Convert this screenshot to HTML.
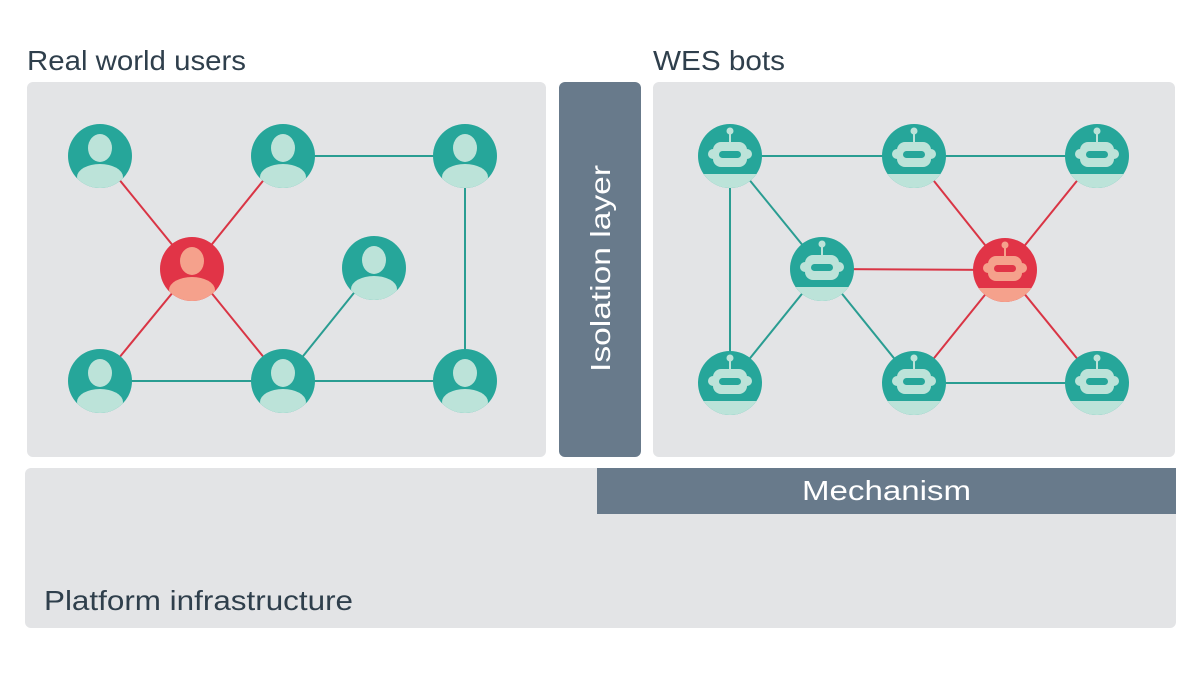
<!DOCTYPE html>
<html><head><meta charset="utf-8"><style>
html,body{margin:0;padding:0;background:#fff;}
svg{display:block;}
text{font-family:"Liberation Sans","DejaVu Sans",sans-serif;fill:#2f3f4c;}
</style></head><body>
<svg width="1200" height="675" viewBox="0 0 1200 675" xmlns="http://www.w3.org/2000/svg">
<defs>
<clipPath id="cc"><circle cx="0" cy="0" r="32"/></clipPath>
<g id="person">
  <circle r="32" fill="#26a69a"/>
  <g clip-path="url(#cc)">
    <ellipse cx="0" cy="-8" rx="12" ry="14" fill="#bce3d9"/>
    <ellipse cx="0" cy="21" rx="23" ry="13" fill="#bce3d9"/>
  </g>
</g>
<g id="personR">
  <circle r="32" fill="#e13447"/>
  <g clip-path="url(#cc)">
    <ellipse cx="0" cy="-8" rx="12" ry="14" fill="#f5a18c"/>
    <ellipse cx="0" cy="21" rx="23" ry="13" fill="#f5a18c"/>
  </g>
</g>
<g id="bot">
  <circle r="32" fill="#26a69a"/>
  <g clip-path="url(#cc)"><rect x="-40" y="18" width="80" height="30" fill="#bce3d9"/></g>
  <circle cx="0" cy="-25" r="3.5" fill="#bce3d9"/>
  <rect x="-1" y="-25" width="2" height="12" fill="#bce3d9"/>
  <rect x="-22" y="-7" width="44" height="10" rx="5" fill="#bce3d9"/>
  <rect x="-17" y="-14" width="34" height="25" rx="8" fill="#bce3d9"/>
  <rect x="-11" y="-5" width="22" height="7" rx="3.5" fill="#26a69a"/>
</g>
<g id="botR">
  <circle r="32" fill="#e13447"/>
  <g clip-path="url(#cc)"><rect x="-40" y="18" width="80" height="30" fill="#f5a18c"/></g>
  <circle cx="0" cy="-25" r="3.5" fill="#f5a18c"/>
  <rect x="-1" y="-25" width="2" height="12" fill="#f5a18c"/>
  <rect x="-22" y="-7" width="44" height="10" rx="5" fill="#f5a18c"/>
  <rect x="-17" y="-14" width="34" height="25" rx="8" fill="#f5a18c"/>
  <rect x="-11" y="-5" width="22" height="7" rx="3.5" fill="#e13447"/>
</g>
</defs>

<text x="27" y="70" font-size="28" textLength="219" lengthAdjust="spacingAndGlyphs">Real world users</text>
<text x="653" y="70" font-size="28" textLength="132" lengthAdjust="spacingAndGlyphs">WES bots</text>

<rect x="27" y="82" width="519" height="375" rx="6" fill="#e3e4e6"/>
<rect x="653" y="82" width="522" height="375" rx="6" fill="#e3e4e6"/>
<rect x="559" y="82" width="82" height="375" rx="6" fill="#687a8b"/>
<text transform="translate(610,268.5) rotate(-90)" text-anchor="middle" font-size="28" textLength="207" lengthAdjust="spacingAndGlyphs" style="fill:#fff">Isolation layer</text>

<rect x="25" y="468" width="1151" height="160" rx="6" fill="#e3e4e6"/>
<rect x="597" y="468" width="579" height="46" fill="#687a8b"/>
<text x="802" y="500" font-size="28" textLength="169" lengthAdjust="spacingAndGlyphs" style="fill:#fff">Mechanism</text>
<text x="44" y="610" font-size="28" textLength="309" lengthAdjust="spacingAndGlyphs">Platform infrastructure</text>

<g stroke-width="2" fill="none">
  <g stroke="#d93545">
    <line x1="100" y1="156" x2="192" y2="269"/>
    <line x1="283" y1="156" x2="192" y2="269"/>
    <line x1="192" y1="269" x2="100" y2="381"/>
    <line x1="192" y1="269" x2="283" y2="381"/>
    <line x1="822" y1="269" x2="1005" y2="270"/>
    <line x1="914" y1="156" x2="1005" y2="270"/>
    <line x1="1097" y1="156" x2="1005" y2="270"/>
    <line x1="1005" y1="270" x2="914" y2="383"/>
    <line x1="1005" y1="270" x2="1097" y2="383"/>
  </g>
  <g stroke="#2a9d92">
    <line x1="283" y1="156" x2="465" y2="156"/>
    <line x1="465" y1="156" x2="465" y2="381"/>
    <line x1="374" y1="268" x2="283" y2="381"/>
    <line x1="100" y1="381" x2="283" y2="381"/>
    <line x1="283" y1="381" x2="465" y2="381"/>
    <line x1="730" y1="156" x2="914" y2="156"/>
    <line x1="914" y1="156" x2="1097" y2="156"/>
    <line x1="730" y1="156" x2="730" y2="383"/>
    <line x1="730" y1="156" x2="822" y2="269"/>
    <line x1="822" y1="269" x2="730" y2="383"/>
    <line x1="822" y1="269" x2="914" y2="383"/>
    <line x1="914" y1="383" x2="1097" y2="383"/>
  </g>
</g>

<use href="#person" x="100" y="156"/>
<use href="#person" x="283" y="156"/>
<use href="#person" x="465" y="156"/>
<use href="#personR" x="192" y="269"/>
<use href="#person" x="374" y="268"/>
<use href="#person" x="100" y="381"/>
<use href="#person" x="283" y="381"/>
<use href="#person" x="465" y="381"/>

<use href="#bot" x="730" y="156"/>
<use href="#bot" x="914" y="156"/>
<use href="#bot" x="1097" y="156"/>
<use href="#bot" x="822" y="269"/>
<use href="#botR" x="1005" y="270"/>
<use href="#bot" x="730" y="383"/>
<use href="#bot" x="914" y="383"/>
<use href="#bot" x="1097" y="383"/>
</svg>
</body></html>
